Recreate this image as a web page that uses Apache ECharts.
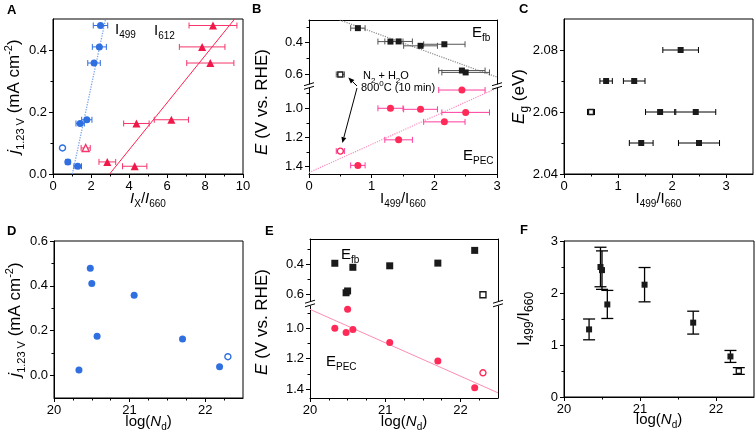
<!DOCTYPE html>
<html><head><meta charset="utf-8">
<script src="https://cdn.jsdelivr.net/npm/echarts@6/dist/echarts.min.js"></script>
<style>html,body{margin:0;padding:0;background:#fff}#c{width:756px;height:439px}</style>
</head><body><div id="c"></div>
<script>
// ---------------- DATA (8 samples; last one = N2 + H2O, 800 C 10 min, open symbols) ----------------
const logNd   = [20.33, 20.48, 20.50, 20.57, 21.06, 21.70, 22.19, 22.30];
const i499    = [1.30, 2.50, 2.44, 1.78, 2.16, 1.43, 0.78, 0.50];
const i499Err = [0.20, 0.38, 0.37, 0.27, 0.33, 0.22, 0.115, 0.065];
const i612    = [4.30, 8.42, 7.85, 6.23, 8.28, 4.39, 2.86, 1.72];
const i612Err = [0.64, 1.26, 1.20, 0.90, 1.24, 0.67, 0.44, 0.24];
const j123    = [0.025, 0.479, 0.41, 0.175, 0.358, 0.163, 0.039, 0.084];
const eFb     = [0.393, 0.59, 0.578, 0.42, 0.41, 0.392, 0.307, 0.603];
const ePec    = [1.00, 1.028, 0.875, 1.007, 1.093, 1.216, 1.391, 1.293];
const eG      = [2.07, 2.05, 2.06, 2.06, 2.08, 2.05, 2.07, 2.06];
const isN2H2O = [false, false, false, false, false, false, false, true];
// fitted lines (end points)
const fitA499 = [[1.02, 0], [2.77, 0.5]];
const fitA612 = [[2.98, 0], [9.56, 0.5]];
const fitBfb  = [[0.49, 0.255], [3.0, 0.62]];
const fitBpec = [[0, 1.44], [3.0, 0.861]];
const fitEpec = [[20, 0.875], [22.5, 1.425]];
// tick labels
const aXTicks = [0, 2, 4, 6, 8, 10], aXMinor = [1, 3, 5, 7, 9];
const aYTicks = [0, 0.2, 0.4], aYMinor = [0.1, 0.3];
const bXTicks = [0, 1, 2, 3], bXMinor = [0.5, 1.5, 2.5];
const bYTopTicks = [0.4, 0.6], bYTopMinor = [0.3, 0.5];
const bYBotTicks = [1.0, 1.2, 1.4], bYBotMinor = [0.9, 1.1, 1.3];
const cXTicks = [0, 1, 2, 3], cXMinor = [0.5, 1.5, 2.5];
const cYTicks = [2.04, 2.06, 2.08], cYMinor = [2.05, 2.07];
const dXTicks = [20, 21, 22], dXMinor = [20.25, 20.5, 20.75, 21.25, 21.5, 21.75, 22.25];
const dYTicks = [0, 0.2, 0.4, 0.6], dYMinor = [0.1, 0.3, 0.5];
const fXTicks = [20, 21, 22], fXMinor = [20.5, 21.5];
const fYTicks = [0, 1, 2, 3], fYMinor = [0.5, 1.5, 2.5];

// ---------------- helpers ----------------
const F = '"Liberation Sans", Arial, Helvetica, sans-serif';
const BLUE = '#2f6fe0', RED = '#f01848', REDBAR = '#f5356b', PINK = '#ff2a58', PINKBAR = '#ff3d9e', BLK = '#1a1a1a';
function rs(b, s, color) {
  color = color || '#000';
  return {
    n: {fontFamily: F, fontSize: b, color, lineHeight: b + 6},
    i: {fontFamily: F, fontSize: b, fontStyle: 'italic', color, lineHeight: b + 6},
    s: {fontFamily: F, fontSize: s, color, lineHeight: s, verticalAlign: 'bottom'},
    p: {fontFamily: F, fontSize: s, color, lineHeight: s, verticalAlign: 'top'}
  };
}
const grids = [], xAxis = [], yAxis = [], series = [];
function grid(l, t, w, h, border) {
  grids.push({left: l, top: t, width: w, height: h, show: !!border, borderColor: '#000', borderWidth: 1,
    backgroundColor: 'rgba(0,0,0,0)', containLabel: false, outerBoundsMode: 'none'});
  return grids.length - 1;
}
function ax(list, o) {
  const a = {type: 'value', gridIndex: o.g, min: o.min, max: o.max, inverse: !!o.inv, position: o.pos,
    show: o.show !== false,
    axisLine: {show: !!o.line, onZero: false, lineStyle: {color: '#000', width: 1}},
    axisTick: {show: !!o.ticks, length: o.tl || 4, inside: false, lineStyle: {color: '#000', width: 1}},
    axisLabel: {show: !!o.labels, fontFamily: F, fontSize: 13, color: '#000', margin: o.margin || 6,
      formatter: v => Number(v).toFixed(o.dec || 0)},
    splitLine: {show: false}, minorTick: {show: false}, minorSplitLine: {show: false}, splitArea: {show: false}};
  if (o.ticks) a.axisTick.customValues = o.ticks;
  if (o.labels) a.axisLabel.customValues = o.labels;
  if (o.name) {
    a.name = o.name; a.nameLocation = 'middle'; a.nameGap = o.gap; a.nameMoveOverlap = false;
    a.nameTextStyle = {rich: o.rich};
  }
  list.push(a); return list.length - 1;
}
function pts(xs, ys, open) {
  return xs.map((x, k) => [x, ys[k], k]).filter(p => isN2H2O[p[2]] === open).map(p => [p[0], p[1]]);
}
function line(xi, yi, data, color, type, width) {
  series.push({type: 'line', xAxisIndex: xi, yAxisIndex: yi, data, symbol: 'none', silent: true, z: 1,
    lineStyle: {color, type, width}});
}
// open symbols are drawn as white-filled shapes with a thin coloured outline
function scat(xi, yi, data, sym, size, color, open) {
  series.push({type: 'scatter', xAxisIndex: xi, yAxisIndex: yi, data, symbol: sym, symbolSize: size, z: 4, silent: true,
    itemStyle: open ? {color: '#fff', borderColor: color, borderWidth: 1.4, opacity: 1} : {color, opacity: 1}});
}
function errX(xi, yi, xs, errs, ys, color, cap) {
  series.push({type: 'custom', xAxisIndex: xi, yAxisIndex: yi, silent: true, z: 3, clip: false,
    data: xs.map((x, k) => [x - errs[k], x + errs[k], ys[k]]),
    renderItem(params, api) {
      const y = api.value(2);
      const a = api.coord([api.value(0), y]), b = api.coord([api.value(1), y]);
      const st = {stroke: color, lineWidth: 1};
      return {type: 'group', children: [
        {type: 'line', shape: {x1: a[0], y1: a[1], x2: b[0], y2: b[1]}, style: st},
        {type: 'line', shape: {x1: a[0], y1: a[1] - cap, x2: a[0], y2: a[1] + cap}, style: st},
        {type: 'line', shape: {x1: b[0], y1: b[1] - cap, x2: b[0], y2: b[1] + cap}, style: st}]};
    }});
}
function errY(xi, yi, xs, ys, errs, color, cap) {
  series.push({type: 'custom', xAxisIndex: xi, yAxisIndex: yi, silent: true, z: 3, clip: false,
    data: xs.map((x, k) => [x, ys[k] - errs[k], ys[k] + errs[k]]),
    renderItem(params, api) {
      const x = api.value(0);
      const a = api.coord([x, api.value(1)]), b = api.coord([x, api.value(2)]);
      const st = {stroke: color, lineWidth: 1.3};
      return {type: 'group', children: [
        {type: 'line', shape: {x1: a[0], y1: a[1], x2: b[0], y2: b[1]}, style: st},
        {type: 'line', shape: {x1: a[0] - cap, y1: a[1], x2: a[0] + cap, y2: a[1]}, style: st},
        {type: 'line', shape: {x1: b[0] - cap, y1: b[1], x2: b[0] + cap, y2: b[1]}, style: st}]};
    }});
}

const XI_RATIO = '{n|I}{s|499}{n|/I}{s|660}';
const LOGND = '{n|log(}{i|N}{s|d}{n|)}';
const JNAME = '{i|j}{s|1.23 V}{n| (mA cm}{p|-2}{n|)}';

// ---------------- Panel A ----------------
const gA = grid(53, 19, 190, 155, true), gA2 = grid(53, 19, 190, 155, false);
const xA = ax(xAxis, {g: gA, pos: 'bottom', min: 0, max: 10, line: true, ticks: aXTicks, labels: aXTicks, dec: 0,
  name: '{i|I}{s|X}{n|/}{i|I}{s|660}', gap: 14, rich: rs(15, 10)});
const yA = ax(yAxis, {g: gA, pos: 'left', min: 0, max: 0.5, line: true, ticks: aYTicks, labels: aYTicks, dec: 1,
  name: JNAME, gap: 27, rich: rs(17, 11)});
ax(xAxis, {g: gA2, pos: 'bottom', min: 0, max: 10, ticks: aXMinor, tl: 2.5});
ax(yAxis, {g: gA2, pos: 'left', min: 0, max: 0.5, ticks: aYMinor, tl: 2.5});
line(xA, yA, fitA499, '#7aa5ea', 'dotted', 1.3);
line(xA, yA, fitA612, '#ff1f4f', 'solid', 1);
errX(xA, yA, i499, i499Err, j123, BLUE, 3);
scat(xA, yA, pts(i499, j123, false), 'circle', 7, BLUE, false);
scat(xA, yA, pts(i499, j123, true), 'circle', 6, BLUE, true);
errX(xA, yA, i612, i612Err, j123, REDBAR, 3);
scat(xA, yA, pts(i612, j123, false), 'triangle', 8, RED, false);
scat(xA, yA, pts(i612, j123, true), 'triangle', 7, REDBAR, true);

// ---------------- Panel B (broken axis) ----------------
const gBu = grid(309, 20, 188, 64, false), gBu2 = grid(309, 20, 188, 64, false);
const gBl = grid(309, 88, 188, 86, false), gBl2 = grid(309, 88, 188, 86, false);
const xBu = ax(xAxis, {g: gBu, pos: 'top', min: 0, max: 3, line: true});
const yBu = ax(yAxis, {g: gBu, pos: 'left', min: 0.255, max: 0.664, inv: true, line: true, ticks: bYTopTicks, labels: bYTopTicks, dec: 1});
ax(yAxis, {g: gBu, pos: 'right', min: 0.255, max: 0.664, inv: true, line: true});
ax(xAxis, {g: gBu2, pos: 'top', min: 0, max: 3, show: false});
ax(yAxis, {g: gBu2, pos: 'left', min: 0.255, max: 0.664, inv: true, ticks: bYTopMinor, tl: 2.5});
const xBl = ax(xAxis, {g: gBl, pos: 'bottom', min: 0, max: 3, line: true, ticks: bXTicks, labels: bXTicks, dec: 0,
  name: XI_RATIO, gap: 14, rich: rs(15, 10)});
const yBl = ax(yAxis, {g: gBl, pos: 'left', min: 0.861, max: 1.45, inv: true, line: true, ticks: bYBotTicks, labels: bYBotTicks, dec: 1});
ax(yAxis, {g: gBl, pos: 'right', min: 0.861, max: 1.45, inv: true, line: true});
ax(xAxis, {g: gBl2, pos: 'bottom', min: 0, max: 3, ticks: bXMinor, tl: 2.5});
ax(yAxis, {g: gBl2, pos: 'left', min: 0.861, max: 1.45, inv: true, ticks: bYBotMinor, tl: 2.5});
line(xBu, yBu, fitBfb, '#8a8a8a', 'dotted', 1.2);
errX(xBu, yBu, i499, i499Err, eFb, '#555', 3);
scat(xBu, yBu, pts(i499, eFb, false), 'rect', 6, BLK, false);
scat(xBu, yBu, pts(i499, eFb, true), 'rect', 5, BLK, true);
line(xBl, yBl, fitBpec, '#ff8cbc', 'dotted', 1.2);
errX(xBl, yBl, i499, i499Err, ePec, PINKBAR, 3);
scat(xBl, yBl, pts(i499, ePec, false), 'circle', 7, PINK, false);
scat(xBl, yBl, pts(i499, ePec, true), 'circle', 6, PINK, true);

// ---------------- Panel C ----------------
const gC = grid(564, 19, 189, 155, true), gC2 = grid(564, 19, 189, 155, false);
const xC = ax(xAxis, {g: gC, pos: 'bottom', min: 0, max: 3.5, line: true, ticks: cXTicks, labels: cXTicks, dec: 0,
  name: XI_RATIO, gap: 14, rich: rs(15, 10)});
const yC = ax(yAxis, {g: gC, pos: 'left', min: 2.04, max: 2.09, line: true, ticks: cYTicks, labels: cYTicks, dec: 2,
  name: '{i|E}{s|g}{n| (eV)}', gap: 33, rich: rs(17, 12)});
ax(xAxis, {g: gC2, pos: 'bottom', min: 0, max: 3.5, ticks: cXMinor, tl: 2.5});
ax(yAxis, {g: gC2, pos: 'left', min: 2.04, max: 2.09, ticks: cYMinor, tl: 2.5});
errX(xC, yC, i499, i499Err, eG, '#000', 3);
scat(xC, yC, pts(i499, eG, false), 'rect', 6, BLK, false);
scat(xC, yC, pts(i499, eG, true), 'rect', 5, BLK, true);

// ---------------- Panel D ----------------
const gD = grid(54, 241, 189, 157, true), gD2 = grid(54, 241, 189, 157, false);
const xD = ax(xAxis, {g: gD, pos: 'bottom', min: 20, max: 22.5, line: true, ticks: dXTicks, labels: dXTicks, dec: 0,
  name: LOGND, gap: 13, rich: rs(15, 10)});
const yD = ax(yAxis, {g: gD, pos: 'left', min: -0.1, max: 0.6, line: true, ticks: dYTicks, labels: dYTicks, dec: 1,
  name: JNAME, gap: 27, rich: rs(17, 11)});
ax(xAxis, {g: gD2, pos: 'bottom', min: 20, max: 22.5, ticks: dXMinor, tl: 2.5});
ax(yAxis, {g: gD2, pos: 'left', min: -0.1, max: 0.6, ticks: dYMinor, tl: 2.5});
scat(xD, yD, pts(logNd, j123, false), 'circle', 7, BLUE, false);
scat(xD, yD, pts(logNd, j123, true), 'circle', 6, BLUE, true);

// ---------------- Panel E (broken axis) ----------------
const gEu = grid(310, 239, 188, 62, false), gEu2 = grid(310, 239, 188, 62, false);
const gEl = grid(310, 306, 188, 92, false), gEl2 = grid(310, 306, 188, 92, false);
const xEu = ax(xAxis, {g: gEu, pos: 'top', min: 20, max: 22.5, line: true});
const yEu = ax(yAxis, {g: gEu, pos: 'left', min: 0.231, max: 0.645, inv: true, line: true, ticks: bYTopTicks, labels: bYTopTicks, dec: 1});
ax(yAxis, {g: gEu, pos: 'right', min: 0.231, max: 0.645, inv: true, line: true});
ax(xAxis, {g: gEu2, pos: 'top', min: 20, max: 22.5, show: false});
ax(yAxis, {g: gEu2, pos: 'left', min: 0.231, max: 0.645, inv: true, ticks: bYTopMinor, tl: 2.5});
const xEl = ax(xAxis, {g: gEl, pos: 'bottom', min: 20, max: 22.5, line: true, ticks: dXTicks, labels: dXTicks, dec: 0,
  name: LOGND, gap: 13, rich: rs(15, 10)});
const yEl = ax(yAxis, {g: gEl, pos: 'left', min: 0.853, max: 1.459, inv: true, line: true, ticks: bYBotTicks, labels: bYBotTicks, dec: 1});
ax(yAxis, {g: gEl, pos: 'right', min: 0.853, max: 1.459, inv: true, line: true});
ax(xAxis, {g: gEl2, pos: 'bottom', min: 20, max: 22.5, ticks: dXMinor, tl: 2.5});
ax(yAxis, {g: gEl2, pos: 'left', min: 0.853, max: 1.459, inv: true, ticks: bYBotMinor, tl: 2.5});
scat(xEu, yEu, pts(logNd, eFb, false), 'rect', 7, BLK, false);
scat(xEu, yEu, pts(logNd, eFb, true), 'rect', 6, BLK, true);
line(xEl, yEl, fitEpec, '#ff8cb4', 'solid', 1);
scat(xEl, yEl, pts(logNd, ePec, false), 'circle', 7, PINK, false);
scat(xEl, yEl, pts(logNd, ePec, true), 'circle', 6, PINK, true);

// ---------------- Panel F ----------------
const gF = grid(564, 241, 190, 156, true), gF2 = grid(564, 241, 190, 156, false);
const xF = ax(xAxis, {g: gF, pos: 'bottom', min: 20, max: 22.5, line: true, ticks: fXTicks, labels: fXTicks, dec: 0,
  name: LOGND, gap: 12, rich: rs(15, 10)});
const yF = ax(yAxis, {g: gF, pos: 'left', min: 0, max: 3, line: true, ticks: fYTicks, labels: fYTicks, dec: 0,
  name: XI_RATIO, gap: 28, rich: rs(17, 12)});
ax(xAxis, {g: gF2, pos: 'bottom', min: 20, max: 22.5, ticks: fXMinor, tl: 2.5});
ax(yAxis, {g: gF2, pos: 'left', min: 0, max: 3, ticks: fYMinor, tl: 2.5});
errY(xF, yF, logNd, i499, i499Err, '#000', 6);
scat(xF, yF, pts(logNd, i499, false), 'rect', 6, BLK, false);
scat(xF, yF, pts(logNd, i499, true), 'rect', 5, BLK, true);

// ---------------- render ----------------
const chart = echarts.init(document.getElementById('c'), null, {renderer: 'canvas', width: 756, height: 439});
chart.setOption({animation: false, backgroundColor: '#fff', grid: grids, xAxis, yAxis, series});

// ---------------- annotations ----------------
function txt(x, y, text, rich, align, extra) {
  return Object.assign({type: 'text', x, y, silent: true, z: 100,
    style: {text, rich, align: align || 'left', verticalAlign: 'middle'}}, extra || {});
}
function letter(x, y, t) {
  return {type: 'text', x, y, silent: true, z: 100,
    style: {text: t, fontFamily: F, fontWeight: 'bold', fontSize: 13, fill: '#000', align: 'left', verticalAlign: 'top'}};
}
function brk(x, y) {
  return [-1.8, 1.8].map(d => ({type: 'line', silent: true, z: 100,
    shape: {x1: x - 5, y1: y + d + 1.5, x2: x + 5, y2: y + d - 1.5}, style: {stroke: '#000', lineWidth: 1}}));
}
function arrow(s, t) {
  const dx = t[0] - s[0], dy = t[1] - s[1], L = Math.hypot(dx, dy), ux = dx / L, uy = dy / L;
  const hl = 6, hw = 2.5, bx = t[0] - ux * hl, by = t[1] - uy * hl;
  return [
    {type: 'line', silent: true, z: 100, shape: {x1: s[0], y1: s[1], x2: bx, y2: by}, style: {stroke: '#000', lineWidth: 1}},
    {type: 'polygon', silent: true, z: 100, shape: {points: [[t[0], t[1]], [bx - uy * hw, by + ux * hw], [bx + uy * hw, by - ux * hw]]}, style: {fill: '#000'}}
  ];
}
const openIdx = isN2H2O.indexOf(true);
const pSq = chart.convertToPixel({gridIndex: gBu}, [i499[openIdx], eFb[openIdx]]);
const pCi = chart.convertToPixel({gridIndex: gBl}, [i499[openIdx], ePec[openIdx]]);
const PINKTXT = '#f0448c';
const g = [
  letter(7, 4, 'A'), letter(252, 3, 'B'), letter(519, 3, 'C'),
  letter(7, 225, 'D'), letter(265, 225, 'E'), letter(520, 224, 'F'),
  txt(115, 30, '{n|I}{s|499}', rs(15, 10, BLUE)),
  txt(154, 31, '{n|I}{s|612}', rs(15, 10, '#ff3366')),
  txt(472, 33, '{n|E}{s|fb}', rs(15, 10, '#000')),
  txt(463, 156, '{n|E}{s|PEC}', rs(15, 10, PINKTXT)),
  txt(363, 76, '{n|N}{s|2}{n| + H}{s|2}{n|O}', rs(11, 8, '#000'), 'left'),
  txt(361, 88, '{n|800}{p|0}{n|C (10 min)}', rs(11, 8, '#000'), 'left'),
  txt(341, 255, '{n|E}{s|fb}', rs(15, 10, '#000')),
  txt(326, 362, '{n|E}{s|PEC}', rs(15, 10, PINKTXT)),
  txt(262.5, 102, '{i|E}{n| (V vs. RHE)}', rs(17, 11), 'center', {rotation: Math.PI / 2}),
  txt(262.5, 322, '{i|E}{n| (V vs. RHE)}', rs(17, 11), 'center', {rotation: Math.PI / 2}),
  ...brk(309, 86), ...brk(497, 86), ...brk(310, 303.5), ...brk(498, 303.5),
  ...arrow([357, 86], [pSq[0] + 8, pSq[1] + 3]),
  ...arrow([357, 88], [pCi[0] + 2, pCi[1] - 8])
];
chart.setOption({graphic: g});
</script></body></html>
